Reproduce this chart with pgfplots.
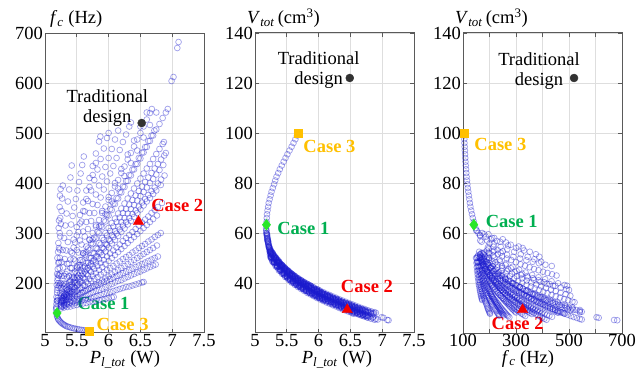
\documentclass[border=0pt]{standalone}
\usepackage{pgfplots}
\pgfplotsset{compat=1.18}
\usepackage{pgfplotstable}
\usepackage{fontspec}
\setmainfont{Liberation Serif}

\definecolor{ptblue}{RGB}{25,25,205}
\definecolor{c1text}{RGB}{0,175,80}
\definecolor{c1mark}{RGB}{40,230,40}
\definecolor{c2}{RGB}{245,0,0}
\definecolor{c3}{RGB}{255,192,0}
\definecolor{tradcol}{RGB}{50,50,50}
\definecolor{gridc}{RGB}{222,222,222}
\definecolor{framec}{RGB}{90,90,90}

\newcommand\ff{\fontsize{18.5bp}{20bp}\selectfont}

\pgfplotstableread{
P fc V
5.19 165 59
5.20 191 57
5.21 216 55.5
5.22 242 54.5
5.23 267 53.5
5.24 293 52.5
5.25 318 51.5
5.26 344 50.5
5.27 369 49.5
5.28 395 48.5
5.18 150 61
5.19 180 59.5
5.20 210 58
5.21 240 56.5
5.22 270 55
5.23 300 54
5.24 330 53
5.20 170 56.5
5.22 194 54.3
5.24 218 53
5.26 242 52.1
5.28 266 51.3
5.30 290 50.5
5.32 315 49.8
5.34 339 49.1
5.36 363 48.5
5.38 387 47.9
5.40 411 47.3
5.42 435 46.8
5.20 165 57
5.25 190 53
5.30 214 51
5.35 238 49.3
5.40 263 47.8
5.45 287 46.5
5.50 312 45.3
5.55 336 44.2
5.60 361 43.2
5.65 385 42.3
5.70 410 41.5
5.75 434 40.7
5.80 459 39.9
5.85 483 39.2
5.87 493 38.9
5.25 175 52
5.30 199 50
5.35 223 48.3
5.40 247 46.8
5.45 271 45.5
5.50 295 44.3
5.55 319 43.2
5.60 344 42.2
5.65 368 41.3
5.70 392 40.5
5.75 416 39.7
5.80 440 38.9
5.30 193 50.5
5.35 211 48.8
5.40 230 47.3
5.45 248 46
5.50 266 44.8
5.55 285 43.7
5.60 303 42.7
5.65 322 41.8
5.70 340 41
5.75 358 40.2
5.80 377 39.4
5.85 395 38.7
5.90 413 38
5.95 432 37.3
6.00 450 36.7
6.05 468 36.1
6.10 487 35.5
6.15 505 34.9
5.25 166 51.5
5.30 179 49.5
5.35 193 47.8
5.40 206 46.3
5.45 219 45
5.50 233 43.8
5.55 246 42.7
5.60 260 41.7
5.65 273 40.8
5.70 286 40
5.75 300 39.2
5.80 313 38.4
5.85 326 37.7
5.90 340 37
5.95 353 36.3
6.00 366 35.7
6.05 380 35.1
6.10 393 34.5
6.15 406 33.9
6.20 420 33.4
6.25 433 32.8
6.30 447 32.3
6.35 460 31.7
6.40 473 31.2
6.45 487 30.7
6.50 500 30.2
6.55 513 29.7
6.60 527 29.2
6.65 540 28.7
6.68 548 28.5
5.25 163 50.5
5.30 174 48.5
5.35 186 46.8
5.40 197 45.3
5.45 209 44
5.50 220 42.8
5.55 232 41.7
5.60 243 40.7
5.65 255 39.8
5.70 266 39
5.75 278 38.2
5.80 289 37.4
5.85 300 36.7
5.90 312 36
5.95 323 35.3
6.00 335 34.7
6.05 346 34.1
6.10 358 33.5
6.15 369 32.9
6.20 381 32.4
6.25 392 31.8
6.30 404 31.3
6.35 415 30.7
6.40 427 30.2
6.45 438 29.7
6.50 449 29.2
6.55 461 28.7
6.60 472 28.2
6.65 484 27.7
6.70 495 27.3
6.75 507 26.8
6.80 518 26.4
6.85 530 26
6.90 541 25.6
6.93 548 25.4
5.30 175 49.5
5.40 203 46.3
5.50 231 43.8
5.60 259 41.7
5.70 287 40
5.80 316 38.4
5.90 344 37
6.00 372 35.7
6.10 400 34.5
6.20 428 33.4
6.30 457 32.3
6.40 485 31.2
6.50 513 30.2
6.60 541 29.2
7.08 670 25.2
7.10 682 25.1
5.35 186 48.3
5.45 211 45.5
5.55 236 43.2
5.65 262 41.3
5.75 287 39.7
5.85 313 38.2
5.95 338 36.8
6.05 363 35.6
6.15 389 34.4
6.25 414 33.3
6.35 440 32.2
6.45 465 31.2
6.55 491 30.2
6.65 516 29.2
6.75 541 28.3
6.99 604 26.3
7.02 612 26.1
5.25 161 52.5
5.30 171 50.5
5.35 181 48.8
5.40 191 47.3
5.45 201 46
5.50 211 44.8
5.55 220 43.7
5.60 230 42.7
5.65 240 41.8
5.70 250 41
5.75 260 40.2
5.80 270 39.4
5.85 280 38.7
5.90 290 38
5.95 300 37.3
6.00 310 36.7
6.05 320 36.1
6.10 329 35.5
6.15 339 34.9
6.20 349 34.4
6.25 359 33.8
6.30 369 33.3
6.35 379 32.7
6.40 389 32.2
6.45 399 31.7
6.50 409 31.2
6.55 419 30.7
6.60 429 30.2
6.65 438 29.7
6.70 448 29.3
6.75 458 28.8
6.80 468 28.4
6.85 478 28
6.87 482 27.8
5.25 157 51
5.30 166 49
5.35 175 47.3
5.40 183 45.8
5.45 192 44.5
5.50 201 43.3
5.55 209 42.2
5.60 218 41.2
5.65 227 40.3
5.70 235 39.5
5.75 244 38.7
5.80 253 37.9
5.85 261 37.2
5.90 270 36.5
5.95 278 35.8
6.00 287 35.2
6.05 296 34.6
6.10 304 34
6.15 313 33.4
6.20 322 32.9
6.25 330 32.3
6.30 339 31.8
6.35 348 31.2
6.40 356 30.7
6.45 365 30.2
6.50 374 29.7
6.55 382 29.2
6.60 391 28.7
6.65 400 28.2
6.70 408 27.8
6.75 417 27.3
6.80 426 26.9
6.86 436 26.5
5.30 164 50
5.35 172 48.3
5.40 180 46.8
5.45 187 45.5
5.50 195 44.3
5.55 202 43.2
5.60 210 42.2
5.65 218 41.3
5.70 225 40.5
5.75 233 39.7
5.80 241 38.9
5.85 248 38.2
5.90 256 37.5
5.95 263 36.8
6.00 271 36.2
6.05 279 35.6
6.10 286 35
6.15 294 34.4
6.20 302 33.9
6.25 309 33.3
6.30 317 32.8
6.35 324 32.2
6.40 332 31.7
6.45 340 31.2
6.50 347 30.7
6.55 355 30.2
6.60 363 29.7
6.65 370 29.2
6.70 378 28.8
6.75 385 28.3
6.82 396 27.8
5.25 154 50.5
5.30 160 48.5
5.35 166 46.8
5.40 172 45.3
5.45 178 44
5.50 184 42.8
5.55 190 41.7
5.60 196 40.7
5.65 202 39.8
5.70 208 39
5.75 214 38.2
5.80 220 37.4
5.85 226 36.7
5.90 232 36
5.95 238 35.3
6.00 244 34.7
6.05 250 34.1
6.10 256 33.5
6.15 262 32.9
6.20 268 32.4
6.25 274 31.8
6.30 280 31.3
6.35 286 30.7
6.40 292 30.2
6.45 298 29.7
6.50 304 29.2
6.55 310 28.7
6.60 316 28.2
6.65 322 27.7
6.70 328 27.3
6.76 335 26.8
5.25 152 50
5.30 157 48
5.35 161 46.3
5.40 165 44.8
5.45 169 43.5
5.50 173 42.3
5.55 177 41.2
5.60 181 40.2
5.65 185 39.3
5.70 189 38.5
5.75 193 37.7
5.80 197 36.9
5.85 201 36.2
5.90 205 35.5
5.95 209 34.8
6.00 213 34.2
6.05 217 33.6
6.10 222 33
6.15 226 32.4
6.20 230 31.9
6.25 234 31.3
6.30 238 30.8
6.35 242 30.2
6.40 246 29.7
6.45 250 29.2
6.50 254 28.7
6.55 258 28.2
6.60 262 27.7
6.65 266 27.2
6.70 270 26.8
6.76 275 26.3
5.30 155 48.5
5.35 158 46.8
5.40 161 45.3
5.45 164 44
5.50 167 42.8
5.55 169 41.7
5.60 172 40.7
5.65 175 39.8
5.70 178 39
5.75 181 38.2
5.80 184 37.4
5.85 186 36.7
5.90 189 36
5.95 192 35.3
6.00 195 34.7
6.05 198 34.1
6.10 201 33.5
6.15 204 32.9
6.20 206 32.4
6.25 209 31.8
6.30 212 31.3
6.35 215 30.7
6.40 218 30.2
6.45 221 29.7
6.50 223 29.2
6.55 226 28.7
6.60 229 28.2
6.65 232 27.7
6.70 235 27.3
6.74 237 26.9
5.275 153 48.5
5.325 155 46.7
5.375 157 45
5.425 159 43.7
5.475 161 42.4
5.525 163 41.3
5.575 165 40.2
5.625 166 39.3
5.675 168 38.4
5.725 170 37.6
5.775 172 36.8
5.825 174 36
5.875 176 35.4
5.925 178 34.7
5.975 180 34
6.025 182 33.4
6.075 184 32.8
6.125 186 32.2
6.175 188 31.7
6.225 190 31.1
6.275 192 30.6
6.325 193 30
6.375 195 29.5
6.425 197 29
6.475 199 28.5
6.525 201 28
6.55 202 27.7
5.25 149 50
5.30 151 48
5.35 152 46.3
5.40 153 44.8
5.45 155 43.5
5.50 156 42.3
5.55 158 41.2
5.60 159 40.2
5.65 160 39.3
5.70 162 38.5
5.75 163 37.7
5.80 164 36.9
5.85 166 36.2
5.90 167 35.5
5.95 168 34.8
6.00 170 34.2
6.05 171 33.6
6.08 172 33.2
5.182 141 64.5
5.185 137 66
5.189 134 67.5
5.197 131 69
5.207 128 70.5
5.215 126 72
5.23 124 73.5
5.245 122 75
5.26 120 76.5
5.28 118 78
5.30 116.5 79.5
5.318 115 81
5.338 113.5 82.5
5.365 112.5 84
5.39 111.5 85.5
5.42 110.3 87
5.45 109.3 88.5
5.48 108.5 90
5.51 107.8 91.5
5.543 107 93
5.575 106.3 94.5
5.605 105.5 96
5.635 105 97.5
5.66 104.5 99
5.175 147 62
5.178 152 61
5.18 158 60
5.185 164 59
5.18 172 60
5.19 186 58.5
5.185 196 59.5
5.195 205 57.5
5.19 218 58
5.20 228 56.8
5.195 250 57.5
5.205 262 56.2
5.21 280 55.3
5.215 310 54.6
5.22 325 54
5.23 352 52.5
5.235 375 51.5
5.245 388 50.5
5.21 200 55.8
5.22 215 54.5
5.23 230 53.2
5.235 250 52.7
5.24 180 52.2
5.245 200 51.8
5.275 163 50
5.325 166 48.2
5.375 169 46.6
5.425 172 45.2
5.475 175 43.9
5.525 178 42.8
5.575 181 41.7
5.625 184 40.8
5.675 187 39.9
5.725 190 39.1
5.775 193 38.3
5.825 196 37.6
5.875 199 36.9
5.925 202 36.2
5.975 205 35.5
6.025 208 34.9
6.075 211 34.3
6.125 214 33.7
6.175 217 33.2
6.225 220 32.6
6.275 223 32.1
6.325 226 31.5
6.375 229 31
6.425 232 30.5
6.475 235 30
6.525 238 29.5
6.575 241 29
6.625 244 28.5
6.675 247 28
6.725 250 27.6
6.775 253 27.1
5.275 164 51.5
5.325 168 49.7
5.375 173 48
5.425 177 46.7
5.475 182 45.4
5.525 186 44.3
5.575 190 43.2
5.625 195 42.3
5.675 199 41.4
5.725 204 40.6
5.775 208 39.8
5.825 212 39.1
5.875 217 38.4
5.925 221 37.7
5.975 226 37
6.025 230 36.4
6.075 234 35.8
6.125 239 35.2
6.175 243 34.7
6.225 248 34.1
6.275 252 33.6
6.325 256 33
6.375 261 32.5
6.425 265 32
6.475 270 31.5
6.525 274 31
6.575 278 30.5
6.625 283 30
6.675 287 29.5
6.725 292 29.1
6.775 296 28.6
6.82 300 28.2
5.275 166 51
5.325 172 49.2
5.375 178 47.6
5.425 184 46.2
5.475 190 44.9
5.525 197 43.8
5.575 203 42.7
5.625 209 41.8
5.675 215 40.9
5.725 222 40.1
5.775 228 39.3
5.825 234 38.6
5.875 240 37.9
5.925 246 37.2
5.975 253 36.5
6.025 259 35.9
6.075 265 35.3
6.125 271 34.7
6.175 277 34.2
6.225 284 33.6
6.275 290 33.1
6.325 296 32.5
6.375 302 32
6.425 308 31.5
6.475 315 31
6.525 321 30.5
6.575 327 30
6.625 333 29.5
6.675 340 29
6.725 346 28.6
6.775 352 28.1
6.84 360 27.6
5.275 169 49
5.325 177 47.2
5.375 184 45.6
5.425 192 44.2
5.475 200 42.9
5.525 207 41.8
5.575 215 40.7
5.625 223 39.8
5.675 230 38.9
5.725 238 38.1
5.775 246 37.3
5.825 253 36.6
5.875 261 35.9
5.925 269 35.2
5.975 276 34.5
6.025 284 33.9
6.075 292 33.3
6.125 299 32.7
6.175 307 32.2
6.225 315 31.6
6.275 322 31.1
6.325 330 30.5
6.375 338 30
6.425 345 29.5
6.475 353 29
6.525 361 28.5
6.575 368 28
6.625 376 27.5
6.675 384 27
6.725 391 26.6
6.775 399 26.1
6.825 407 25.7
6.88 415 25.3
5.275 170 52
5.325 179 50.2
5.375 188 48.6
5.425 197 47.2
5.475 206 45.9
5.525 215 44.8
5.575 224 43.7
5.625 233 42.8
5.675 241 41.9
5.725 250 41.1
5.775 259 40.3
5.825 268 39.6
5.875 277 38.9
5.925 286 38.2
5.975 295 37.5
6.025 304 36.9
6.075 313 36.3
6.125 322 35.7
6.175 331 35.2
6.225 340 34.6
6.275 348 34.1
6.325 357 33.5
6.375 366 33
6.425 375 32.5
6.475 384 32
6.525 393 31.5
6.575 402 31
6.625 411 30.5
6.675 420 30
6.725 429 29.6
6.775 438 29.1
6.825 447 28.7
6.875 455 28.3
6.90 460 28.1
5.275 178 51.5
5.325 189 49.7
5.375 201 48
5.425 212 46.7
5.475 223 45.4
5.525 235 44.3
5.575 246 43.2
5.625 257 42.3
5.675 269 41.4
5.725 280 40.6
5.775 291 39.8
5.825 302 39.1
5.875 314 38.4
5.925 325 37.7
5.975 336 37
6.025 348 36.4
6.075 359 35.8
6.125 370 35.2
6.175 382 34.7
6.225 393 34.1
6.275 404 33.6
6.325 416 33
6.375 427 32.5
6.425 438 32
6.475 450 31.5
6.525 461 31
6.575 472 30.5
6.625 484 30
6.675 495 29.5
6.72 505 29.1
5.275 182 51
5.325 198 49.2
5.375 214 47.6
5.425 230 46.2
5.475 245 44.9
5.525 261 43.8
5.575 277 42.7
5.625 293 41.8
5.675 308 40.9
5.725 324 40.1
5.775 340 39.3
5.825 356 38.6
5.875 371 37.9
5.925 387 37.2
5.975 403 36.5
6.025 419 35.9
6.075 434 35.3
6.125 450 34.7
6.175 466 34.2
6.225 482 33.6
6.275 497 33.1
6.325 513 32.5
6.35 521 32.3
5.275 197 52
5.325 218 50.2
5.375 239 48.6
5.425 260 47.2
5.475 281 45.9
5.525 302 44.8
5.575 323 43.7
5.625 343 42.8
5.675 364 41.9
5.725 385 41.1
5.775 406 40.3
5.825 427 39.6
5.875 448 38.9
5.925 469 38.2
5.975 490 37.5
6.00 500 37.2
5.235 197 53.8
5.26 214 52.6
5.285 231 51.6
5.31 248 50.7
5.335 265 49.8
5.36 282 49.2
5.385 300 48.3
5.41 317 47.5
5.435 334 46.9
5.46 351 46.3
5.485 368 45.6
5.51 385 45.1
5.535 402 44.5
5.56 419 44
5.585 436 43.5
5.61 453 43
}\pts

\tikzset{lblsty/.style={font=\ff\bfseries, inner sep=0pt}}
\pgfplotsset{
  panel/.style={
    scale only axis, width=159bp, height=300bp, anchor=south west,
    grid=major, major grid style={gridc, line width=0.8bp},
    axis line style={framec, line width=1bp},
    tick style={framec, line width=0.8bp}, tick align=inside,
    major tick length=4bp, xtick pos=both, ytick pos=both,
    xticklabel pos=bottom, yticklabel pos=left,
    /pgf/number format/assume math mode=true,
    ticklabel style={font=\ff},
    xticklabel style={inner sep=0pt, yshift=-1bp},
    yticklabel style={inner sep=0pt, xshift=-2bp},
    clip=false,
  },
  ptsty/.style={only marks, mark=o, mark size=2.9bp, ptblue,
    mark options={draw opacity=0.42, line width=0.7bp}},
  tradsty/.style={only marks, mark=*, mark size=4bp, tradcol},
  caseonesty/.style={only marks, mark=diamond*, mark size=5.5bp, c1mark},
  casetwosty/.style={only marks, mark=triangle*, mark size=6bp, c2},
  casethreesty/.style={only marks, mark=square*, mark size=4bp, c3},
}

\begin{document}
\begin{tikzpicture}
\path[use as bounding box] (0,0) rectangle (638bp,369bp);

% ---------- panel 1 ----------
\begin{axis}[panel, at={(45bp,36bp)},
  xmin=5, xmax=7.5, ymin=100, ymax=700,
  xtick={5,5.5,6,6.5,7,7.5}, ytick={200,300,400,500,600,700}]
\addplot[ptsty] table[x=P, y=fc]{\pts};
\addplot[tradsty] coordinates {(6.52,520)};
\addplot[caseonesty] coordinates {(5.19,140)};
\addplot[casetwosty] coordinates {(6.47,323)};
\addplot[casethreesty] coordinates {(5.70,103)};
\node[font=\ff, align=center, inner sep=0pt] at (axis cs:5.98,549) {Traditional\\design};
\node[lblsty, c2] at (axis cs:7.08,355) {Case 2};
\node[lblsty, c1text] at (axis cs:5.92,159) {Case 1};
\node[lblsty, c3] at (axis cs:6.22,118) {Case 3};
\end{axis}

% ---------- panel 2 ----------
\begin{axis}[panel, at={(255bp,36bp)},
  xmin=5, xmax=7.5, ymin=20, ymax=140,
  xtick={5,5.5,6,6.5,7,7.5}, ytick={40,60,80,100,120,140}]
\addplot[ptsty] table[x=P, y=V]{\pts};
\addplot[tradsty] coordinates {(6.49,122)};
\addplot[caseonesty] coordinates {(5.18,63.3)};
\addplot[casetwosty] coordinates {(6.45,29.3)};
\addplot[casethreesty] coordinates {(5.68,100)};
\node[font=\ff, align=center, inner sep=0pt] at (axis cs:6.0,125) {Traditional\\design};
\node[lblsty, c2] at (axis cs:6.76,38.7) {Case 2};
\node[lblsty, c1text] at (axis cs:5.76,62) {Case 1};
\node[lblsty, c3] at (axis cs:6.17,94.8) {Case 3};
\end{axis}

% ---------- panel 3 ----------
\begin{axis}[panel, at={(463bp,36bp)},
  xmin=100, xmax=700, ymin=20, ymax=140,
  xtick={100,200,300,400,500,600,700}, xticklabels={100,,300,,500,,700},
  ytick={40,60,80,100,120,140}]
\addplot[ptsty] table[x=fc, y=V]{\pts};
\addplot[tradsty] coordinates {(519,122)};
\addplot[caseonesty] coordinates {(141,63.3)};
\addplot[casetwosty] coordinates {(325,29.3)};
\addplot[casethreesty] coordinates {(104,100)};
\node[font=\ff, align=center, inner sep=0pt] at (axis cs:387,124.6) {Traditional\\design};
\node[lblsty, c2] at (axis cs:306,24) {Case 2};
\node[lblsty, c1text] at (axis cs:284,64.7) {Case 1};
\node[lblsty, c3] at (axis cs:241,95.3) {Case 3};
\end{axis}

% ---------- titles and axis labels ----------
\node[font=\ff, anchor=base west, inner sep=0pt] at (50bp,345bp)
  {\textit{f}\textsubscript{\textit{c}} (Hz)};
\node[font=\ff, anchor=base west, inner sep=0pt] at (247bp,345bp)
  {\textit{V}\textsubscript{\textit{tot}}\,(cm\textsuperscript{3})};
\node[font=\ff, anchor=base west, inner sep=0pt] at (455bp,345bp)
  {\textit{V}\textsubscript{\textit{tot}}\,(cm\textsuperscript{3})};
\node[font=\ff, anchor=base, inner sep=0pt] at (125bp,6bp)
  {\textit{P}\textsubscript{\textit{l\_tot}} (W)};
\node[font=\ff, anchor=base, inner sep=0pt] at (337bp,6bp)
  {\textit{P}\textsubscript{\textit{l\_tot}} (W)};
\node[font=\ff, anchor=base, inner sep=0pt] at (528bp,6bp)
  {\textit{f}\textsubscript{\textit{c}} (Hz)};
\end{tikzpicture}
\end{document}
